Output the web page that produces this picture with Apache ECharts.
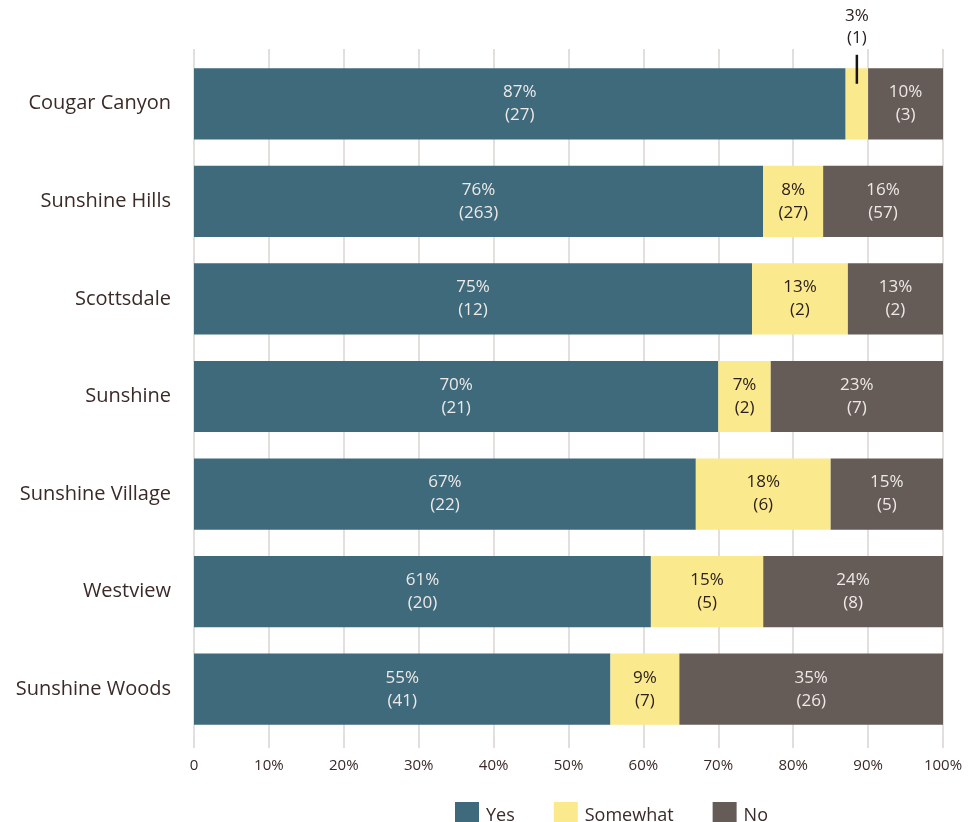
<!DOCTYPE html>
<html><head><meta charset="utf-8">
<script src="https://cdn.jsdelivr.net/npm/echarts@6/dist/echarts.min.js"></script>
<style>html,body{margin:0;padding:0;background:#fff}#c{width:969px;height:822px}</style>
</head><body><div id="c"></div>
<script>
const categories = ['Cougar Canyon','Sunshine Hills','Scottsdale','Sunshine','Sunshine Village','Westview','Sunshine Woods'];
const yesValues = [87, 76, 74.5, 70, 67, 61, 55.6];
const somewhatValues = [3, 8, 12.8, 7, 18, 15, 9.2];
const noValues = [10, 16, 12.7, 23, 15, 24, 35.2];
const yesPct = [87, 76, 75, 70, 67, 61, 55];
const somewhatPct = [3, 8, 13, 7, 18, 15, 9];
const noPct = [10, 16, 13, 23, 15, 24, 35];
const yesCounts = [27, 263, 12, 21, 22, 20, 41];
const somewhatCounts = [1, 27, 2, 2, 6, 5, 7];
const noCounts = [3, 57, 2, 7, 5, 8, 26];
const xTicks = [0, 10, 20, 30, 40, 50, 60, 70, 80, 90, 100];
const calloutIndex = 0; // Cougar Canyon 'Somewhat' label is placed above the bar

const FONT = 'Open Sans';
const cats = categories.slice().reverse();
const rev = a => a.slice().reverse();

function lbl(pcts, counts, color, skip) {
  const p = rev(pcts), c = rev(counts);
  return {
    show: true, position: 'inside', color: color, fontFamily: FONT, fontSize: 17, lineHeight: 23,
    formatter: params => (skip !== undefined && params.dataIndex === categories.length - 1 - skip) ? '' : p[params.dataIndex] + '%\n(' + c[params.dataIndex] + ')'
  };
}

const chart = echarts.init(document.getElementById('c'));
const calloutY = categories.length - 1 - calloutIndex;
const calloutX = yesValues[calloutIndex] + somewhatValues[calloutIndex] / 2;

chart.setOption({
  animation: false,
  textStyle: { fontFamily: FONT },
  grid: { left: 194, right: 26, top: 55, bottom: 84 },
  xAxis: [{
    type: 'value', min: xTicks[0], max: xTicks[xTicks.length - 1], interval: 10,
    axisLine: { show: false },
    axisTick: { show: true, length: 10, lineStyle: { color: '#d8d4d2', width: 1.5 } },
    splitLine: { show: true, lineStyle: { color: '#d8d4d2', width: 1.5 } },
    axisLabel: { margin: 20, fontSize: 15, color: '#3a2a28', fontFamily: FONT,
      formatter: v => v === 0 ? '0' : v + '%' }
  }, {
    type: 'value', min: xTicks[0], max: xTicks[xTicks.length - 1], interval: 10, position: 'top',
    axisLine: { show: false }, axisLabel: { show: false }, splitLine: { show: false },
    axisTick: { show: true, length: 6, lineStyle: { color: '#d8d4d2', width: 1.5 } }
  }],
  yAxis: {
    type: 'category', data: cats,
    axisLine: { show: false }, axisTick: { show: false },
    axisLabel: { margin: 23, fontSize: 20, color: '#3a2a28', fontFamily: FONT }
  },
  legend: {
    top: 797, left: 450, itemWidth: 24, itemHeight: 28, itemGap: 39, icon: 'rect',
    textStyle: { fontSize: 18, color: '#3a2a28', fontFamily: FONT, padding: [0, 0, 0, 2] },
    data: ['Yes', 'Somewhat', 'No']
  },
  series: [
    { name: 'Yes', type: 'bar', stack: 's', barCategoryGap: '27%', data: rev(yesValues),
      itemStyle: { color: '#3e6a7c' }, label: lbl(yesPct, yesCounts, '#eee9e6') },
    { name: 'Somewhat', type: 'bar', stack: 's', data: rev(somewhatValues),
      itemStyle: { color: '#fbe98e' }, label: lbl(somewhatPct, somewhatCounts, '#2b2020', calloutIndex) },
    { name: 'No', type: 'bar', stack: 's', data: rev(noValues),
      itemStyle: { color: '#655c58' }, label: lbl(noPct, noCounts, '#eee9e6') },
    { name: 'callout', type: 'custom', silent: true, z: 10,
      data: [[calloutX, calloutY]],
      renderItem: (params, api) => {
        const p = api.coord([api.value(0), api.value(1)]);
        return { type: 'group', children: [
          { type: 'line', shape: { x1: p[0], y1: p[1] - 49, x2: p[0], y2: p[1] - 20 },
            style: { stroke: '#1a1414', lineWidth: 2.5 } },
          { type: 'text', x: p[0], y: p[1] - 55,
            style: { text: somewhatPct[calloutIndex] + '%\n(' + somewhatCounts[calloutIndex] + ')',
              fill: '#2b2020', font: '17px "Open Sans"', lineHeight: 22, align: 'center', verticalAlign: 'bottom' } }
        ]};
      }
    }
  ]
});
</script></body></html>
